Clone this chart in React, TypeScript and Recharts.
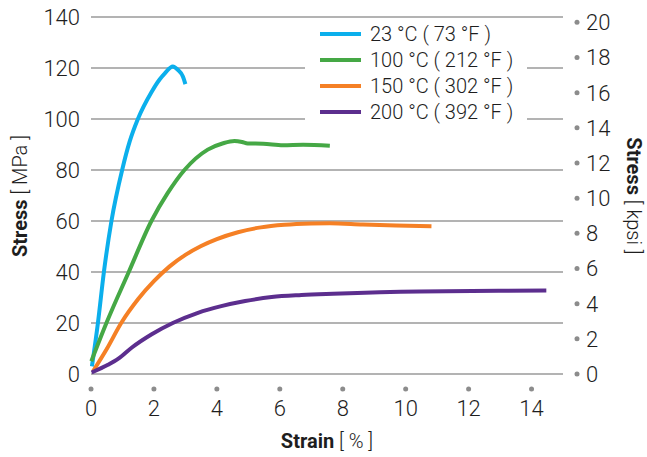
import React from 'react';
import { LineChart, Line, XAxis, YAxis, CartesianGrid, Legend } from 'recharts';

// strain in %, stress in MPa
const strain23 = [0.03, 0.22, 0.41, 0.65, 0.99, 1.23, 1.49, 1.92, 2.18, 2.34, 2.6, 2.76, 2.92, 3.0];
const stress23 = [3, 20, 40, 60, 80, 91.2, 100, 110.5, 115.5, 117.8, 120.6, 119.3, 116.7, 113.7];

const strain100 = [0.01, 0.49, 1.2, 1.92, 2.44, 2.97, 3.71, 4.2, 4.56, 4.8, 4.98, 5.47, 6.1, 6.74, 7.59];
const stress100 = [5, 20, 40, 60, 71, 80, 88, 90.5, 91.4, 91, 90.4, 90.3, 89.7, 89.9, 89.5];

const strain150 = [0.06, 0.5, 0.96, 1.5, 2.0, 2.5, 3.0, 3.5, 4.0, 4.67, 5.4, 6.15, 7.0, 7.59, 8.64, 9.7, 10.82];
const stress150 = [1, 9.8, 20, 29.4, 36.4, 42.2, 46.7, 50.2, 52.9, 55.6, 57.5, 58.5, 59, 59.1, 58.6, 58.2, 57.9];

const strain200 = [0.02, 0.54, 0.87, 1.3, 1.93, 2.6, 3.4, 4.14, 4.9, 5.74, 6.69, 7.69, 10.44, 14.47];
const stress200 = [0.6, 3.6, 6.0, 10.4, 15.6, 20, 24, 26.6, 28.6, 30.2, 31, 31.5, 32.4, 32.7];

const seriesNames = ['23 °C ( 73 °F )', '100 °C ( 212 °F )', '150 °C ( 302 °F )', '200 °C ( 392 °F )'];
const seriesColors = ['#0BAFEC', '#45A845', '#F58025', '#5C2E8E'];

const strainTicks = [0, 2, 4, 6, 8, 10, 12, 14];
const mpaTicks = [0, 20, 40, 60, 80, 100, 120, 140];
const kpsiTicks = [0, 2, 4, 6, 8, 10, 12, 14, 16, 18, 20];

const MPA_PER_KSI = 6.894757;

const toPoints = (xs: number[], ys: number[]) => xs.map((x, i) => ({ strain: x, stress: ys[i] }));

const series = [
  toPoints(strain23, stress23),
  toPoints(strain100, stress100),
  toPoints(strain150, stress150),
  toPoints(strain200, stress200),
];

const FONT = "Roboto, 'Liberation Sans', sans-serif";
const TEXT = '#1e1e1e';
const DOT = '#8c8c8c';

const LeftTick = ({ x, y, payload }: any) => (
  <text x={x - 11} y={y} dy="0.36em" textAnchor="end" fontFamily={FONT} fontWeight={300} fontSize={22} fill={TEXT}>
    {payload.value}
  </text>
);

const RightTick = ({ x, y, payload }: any) => (
  <g>
    <circle cx={x + 14} cy={y} r={2.5} fill={DOT} />
    <text x={x + 23} y={y} dy="0.36em" textAnchor="start" fontFamily={FONT} fontWeight={300} fontSize={22} fill={TEXT}>
      {payload.value}
    </text>
  </g>
);

const BottomTick = ({ x, y, payload }: any) => (
  <g>
    <circle cx={x} cy={y + 15} r={2.5} fill={DOT} />
    <text x={x} y={y + 42} textAnchor="middle" fontFamily={FONT} fontWeight={300} fontSize={22} fill={TEXT}>
      {payload.value}
    </text>
  </g>
);

const StrainLabel = () => (
  <text x={327} y={448} textAnchor="middle" fontFamily={FONT} fontSize={20} fill={TEXT}>
    <tspan fontWeight={700}>Strain</tspan>
    <tspan fontWeight={300}> [ % ]</tspan>
  </text>
);

const MpaLabel = () => (
  <text x={0} y={0} transform="translate(27,196) rotate(-90)" textAnchor="middle" fontFamily={FONT} fontSize={20} fill={TEXT}>
    <tspan fontWeight={700}>Stress</tspan>
    <tspan fontWeight={300}> [ MPa ]</tspan>
  </text>
);

const KpsiLabel = () => (
  <text x={0} y={0} transform="translate(627,196) rotate(90)" textAnchor="middle" fontFamily={FONT} fontSize={20} fill={TEXT}>
    <tspan fontWeight={700}>Stress</tspan>
    <tspan fontWeight={300}> [ kpsi ]</tspan>
  </text>
);

const LegendBox = () => (
  <div style={{ background: '#fff', width: 222, height: 106, paddingLeft: 15, boxSizing: 'border-box' }}>
    {seriesNames.map((name, i) => (
      <div key={name} style={{ display: 'flex', alignItems: 'center', height: 26 }}>
        <span style={{ width: 41, height: 4, background: seriesColors[i], marginRight: 9 }} />
        <span style={{ fontFamily: FONT, fontWeight: 300, fontSize: 20, color: TEXT, whiteSpace: 'nowrap' }}>{name}</span>
      </div>
    ))}
  </div>
);

export default function App() {
  return (
    <div style={{ position: 'absolute', left: 0, top: 0, width: 647, height: 457, background: '#fff' }}>
      <LineChart width={647} height={457} margin={{ top: 17, right: 0, bottom: 0, left: 0 }}>
        <CartesianGrid yAxisId="mpa" vertical={false} stroke="#9a9a9a" strokeWidth={1.3} />
        <XAxis
          dataKey="strain"
          type="number"
          domain={[0, 15]}
          ticks={strainTicks}
          height={83}
          axisLine={false}
          tickLine={false}
          tickSize={0}
          tickMargin={0}
          tick={<BottomTick />}
          label={<StrainLabel />}
        />
        <YAxis
          yAxisId="mpa"
          type="number"
          domain={[0, 140]}
          ticks={mpaTicks}
          width={91}
          axisLine={false}
          tickLine={false}
          tickSize={0}
          tickMargin={0}
          tick={<LeftTick />}
          label={<MpaLabel />}
        />
        <YAxis
          yAxisId="kpsi"
          orientation="right"
          type="number"
          domain={[0, 140 / MPA_PER_KSI]}
          allowDataOverflow
          ticks={kpsiTicks}
          width={84}
          axisLine={false}
          tickLine={false}
          tickSize={0}
          tickMargin={0}
          tick={<RightTick />}
          label={<KpsiLabel />}
        />
        <Legend
          layout="horizontal"
          verticalAlign="middle"
          align="center"
          content={<LegendBox />}
          wrapperStyle={{ left: 305, top: 21, width: 222, height: 106 }}
        />
        {series.map((data, i) => (
          <Line
            key={seriesNames[i]}
            yAxisId="mpa"
            data={data}
            dataKey="stress"
            name={seriesNames[i]}
            type="monotone"
            stroke={seriesColors[i]}
            strokeWidth={4}
            dot={false}
            activeDot={false}
            isAnimationActive={false}
          />
        ))}
      </LineChart>
    </div>
  );
}
